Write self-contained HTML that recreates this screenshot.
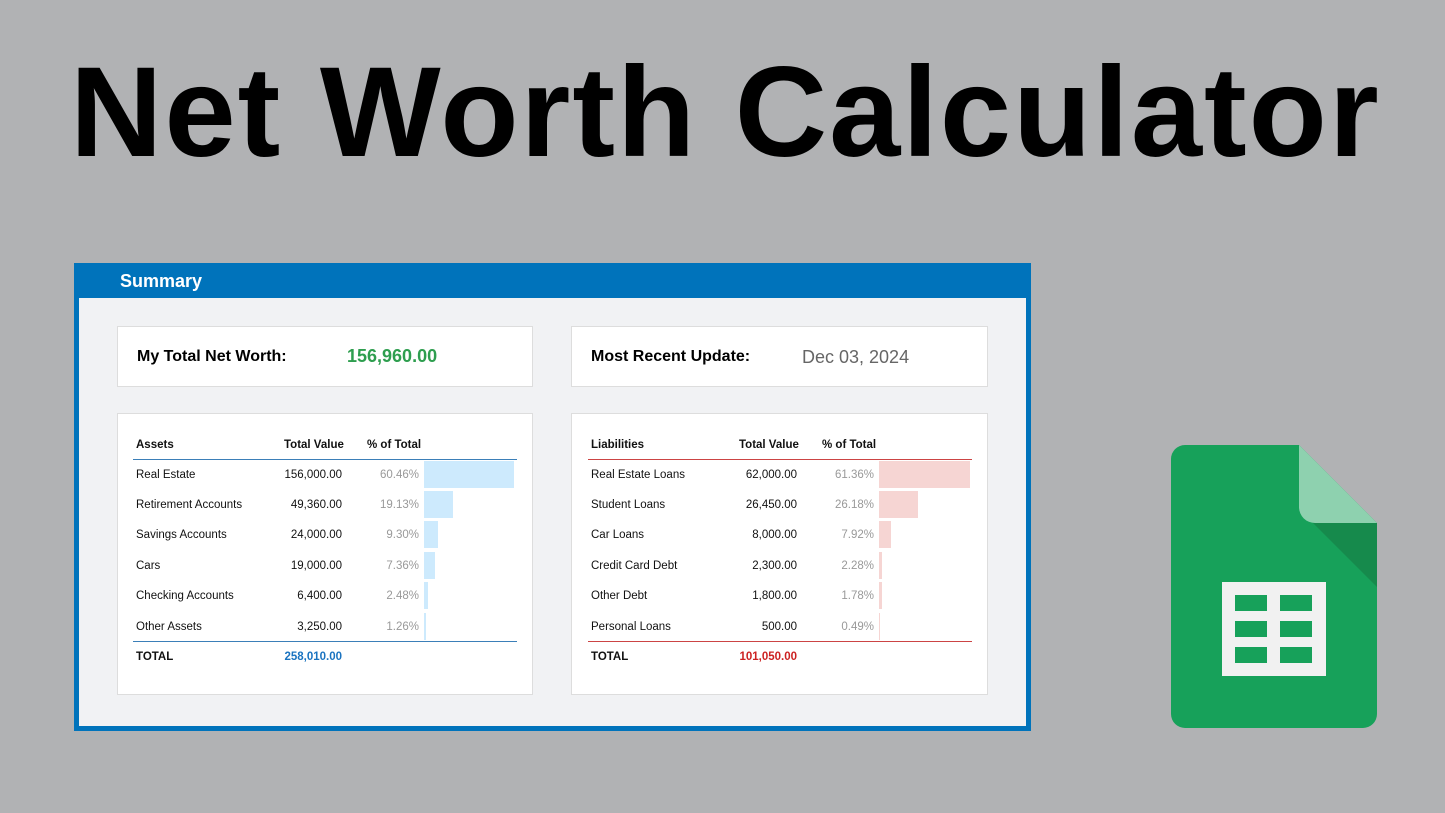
<!DOCTYPE html>
<html><head><meta charset="utf-8">
<style>
body{margin:0;width:1445px;height:813px;background:#b1b2b4;font-family:"Liberation Sans",sans-serif;position:relative;overflow:hidden}
.abs{position:absolute}
.t{position:absolute;font-size:11.5px;color:#111;white-space:nowrap;line-height:14px}
.r{text-align:right}
</style></head><body>
<div class="abs" style="left:70px;top:48px;font-size:128px;font-weight:bold;color:#000;letter-spacing:2px;line-height:130px">Net Worth Calculator</div>

<div class="abs" style="left:74px;top:263px;width:957px;height:468px;background:#0073bb"></div>
<div class="abs" style="left:120px;top:271px;font-size:18px;font-weight:bold;color:#fff">Summary</div>
<div class="abs" style="left:79px;top:298px;width:947px;height:428px;background:#f1f2f4"></div>

<div class="abs" style="left:117px;top:326px;width:414px;height:59px;background:#fff;border:1px solid #ddd"></div>
<div class="abs" style="left:137px;top:348px;font-size:16px;font-weight:bold">My Total Net Worth:</div>
<div class="abs" style="left:347px;top:346px;font-size:18px;font-weight:bold;color:#2e9e4f">156,960.00</div>

<div class="abs" style="left:571px;top:326px;width:415px;height:59px;background:#fff;border:1px solid #ddd"></div>
<div class="abs" style="left:591px;top:348px;font-size:16px;font-weight:bold">Most Recent Update:</div>
<div class="abs" style="left:802px;top:347px;font-size:18px;color:#666">Dec 03, 2024</div>

<div class="abs" style="left:117px;top:413px;width:414px;height:280px;background:#fff;border:1px solid #ddd"></div>
<div class="abs" style="left:571px;top:413px;width:415px;height:280px;background:#fff;border:1px solid #ddd"></div>

<svg class="abs" style="left:1171px;top:445px" width="206" height="283" viewBox="0 0 206 283">
<path d="M14 0 H128 L206 78 V269 A14 14 0 0 1 192 283 H14 A14 14 0 0 1 0 269 V14 A14 14 0 0 1 14 0Z" fill="#17a15a"/>
<path d="M142 78 L206 142 V78Z" fill="#168a4c"/>
<path d="M128 0 V62 A16 16 0 0 0 144 78 H206Z" fill="#8ed1af"/>
<rect x="51" y="137" width="104" height="94" fill="#f1f1f1"/>
<g fill="#17a15a"><rect x="64" y="150" width="32" height="16"/><rect x="109" y="150" width="32" height="16"/><rect x="64" y="176" width="32" height="16"/><rect x="109" y="176" width="32" height="16"/><rect x="64" y="202" width="32" height="16"/><rect x="109" y="202" width="32" height="16"/></g>
</svg>

<script>
const assetNames=["Real Estate","Retirement Accounts","Savings Accounts","Cars","Checking Accounts","Other Assets"];
const assetValues=[156000,49360,24000,19000,6400,3250];
const liabNames=["Real Estate Loans","Student Loans","Car Loans","Credit Card Debt","Other Debt","Personal Loans"];
const liabValues=[62000,26450,8000,2300,1800,500];
const fmt=v=>v.toLocaleString("en-US",{minimumFractionDigits:2,maximumFractionDigits:2});
const rowY=[468,498,528,559,589,620];
function add(html,name,css,cls){const d=document.createElement('div');d.className=cls||'t';d.style.cssText=css;d.textContent=html;


document.body.appendChild(d);return d;}
function table(x0,title,names,values,lineColor,barColor,totalColor,prefix){
 add(title,prefix+'-header-name','left:'+(x0+19)+'px;top:438px;font-weight:bold');
 add('Total Value',prefix+'-header-value','left:'+(x0+167)+'px;top:438px;font-weight:bold');
 add('% of Total',prefix+'-header-pct','left:'+(x0+250)+'px;top:438px;font-weight:bold');
 add('',prefix+'-header-line','left:'+(x0+16)+'px;top:459px;width:384px;height:1px;background:'+lineColor,'abs');
 const total=values.reduce((a,b)=>a+b,0);
 names.forEach((n,i)=>{
  const p=values[i]/total*100;
  add(n,prefix+'-row-name','left:'+(x0+19)+'px;top:'+rowY[i]+'px');
  add(fmt(values[i]),prefix+'-row-value','left:'+(x0+125)+'px;width:100px;top:'+rowY[i]+'px','t r');
  add(p.toFixed(2)+'%',prefix+'-row-pct','left:'+(x0+222)+'px;width:80px;top:'+rowY[i]+'px;color:#999','t r');
  add('',prefix+'-bar','left:'+(x0+307)+'px;top:'+(rowY[i]-7)+'px;height:27px;width:'+(p*1.49)+'px;background:'+barColor,'abs');
 });
 add('',prefix+'-footer-line','left:'+(x0+16)+'px;top:641px;width:384px;height:1px;background:'+lineColor,'abs');
 add('TOTAL',prefix+'-total-label','left:'+(x0+19)+'px;top:650px;font-weight:bold');
 add(fmt(total),prefix+'-total-value','left:'+(x0+125)+'px;width:100px;top:650px;font-weight:bold;color:'+totalColor,'t r');
}
table(117,'Assets',assetNames,assetValues,'#3b7fb8','#cdeafd','#1a73c0','assets');
table(572,'Liabilities',liabNames,liabValues,'#cc4444','#f6d5d3','#cc2222','liabilities');
</script>
</body></html>
